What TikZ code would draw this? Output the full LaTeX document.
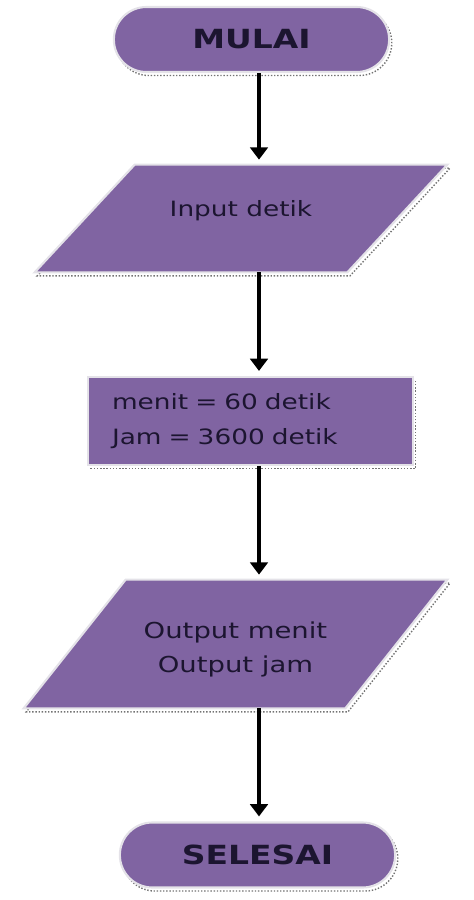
\documentclass[tikz,border=0pt]{standalone}
\usepackage{fontspec}
\setmainfont{DejaVu Sans}[FakeStretch=1.25]
\usetikzlibrary{shapes.misc,arrows.meta,positioning,shadows,backgrounds}
\definecolor{ungu}{HTML}{8064A2}
\definecolor{teks}{HTML}{1C1530}
\definecolor{tepi}{HTML}{E4E2E8}

\tikzset{
    bayang/.style={drop shadow={shadow xshift=1.5pt, shadow yshift=-2pt,
        fill=none, draw=black!55, densely dotted, line width=0.8pt, opacity=1}},
    isi/.style={fill=ungu, draw=tepi, line width=1.2pt, bayang},
    terminal/.style={rounded rectangle, isi, text=teks,
        font=\fontsize{15}{18}\selectfont\bfseries,
        minimum width=5.74cm, minimum height=1.3cm},
    io/.style={rectangle, inner sep=0pt, text=teks, align=center},
    proses/.style={rectangle, isi, text=teks,
        font=\fontsize{12}{20}\selectfont, align=left, text width=5.54cm,
        inner xsep=0.48cm, minimum height=1.76cm},
    panah/.style={line width=2.2pt, -{Triangle[width=10pt,length=7pt]},
        shorten >=0.1cm}
}

\begin{document}
\begin{tikzpicture}
    \useasboundingbox (0,0) rectangle (9.48,-18);

    % First, locate each of the nodes and name them
        \node[terminal] (mulai) at (5.03,-0.79) {MULAI};
        \node[io, minimum width=6.24cm, minimum height=2.14cm,
              font=\fontsize{12}{18}\selectfont] (input) at (4.82,-4.37)
              {\raisebox{0.16cm}[\height][\depth]{Input detik}};
        \node[proses] (hitung) at (5.01,-8.42) {menit = 60 detik\\Jam = 3600 detik};
        \node[io, minimum width=6.42cm, minimum height=2.56cm,
              font=\fontsize{12.5}{19}\selectfont] (output) at (4.71,-12.88)
              {\raisebox{-0.1cm}[\height][\depth]{\begin{tabular}{@{}c@{}}Output menit\\Output jam\end{tabular}}};
        \node[terminal] (selesai) at (5.15,-17.1) {SELESAI};
        \coordinate (jalur) at (5.18,0);

    % Slanted input/output boxes behind the text
        \begin{scope}[on background layer]
            \foreach \n/\s in {input/1.0, output/1.02}
                \draw[isi] ([xshift=\s cm]\n.north west) -- ([xshift=\s cm]\n.north east)
                    -- ([xshift=-\s cm]\n.south east) -- ([xshift=-\s cm]\n.south west) -- cycle;
        \end{scope}

    % Now draw the arrows:
        \draw[panah] (mulai.south -| jalur) -- (input.north -| jalur);
        \draw[panah] (input.south -| jalur) -- (hitung.north -| jalur);
        \draw[panah] (hitung.south -| jalur) -- (output.north -| jalur);
        \draw[panah] (output.south -| jalur) -- (selesai.north -| jalur);
    \end{tikzpicture}
\end{document}
